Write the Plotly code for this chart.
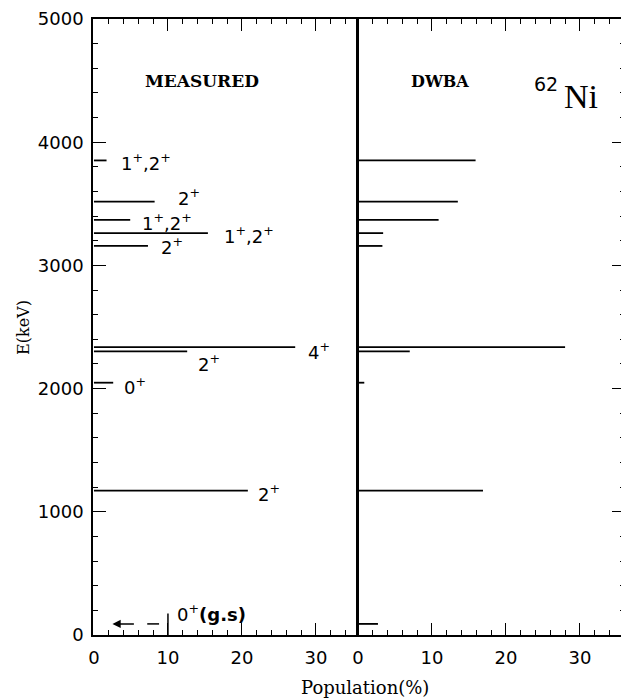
import plotly.graph_objects as go

# ---------------- data ----------------
energies = [1172, 2048, 2302, 2336, 3158, 3262, 3370, 3518, 3852]   # keV
spins = ["2+", "0+", "2+", "4+", "2+", "1+,2+", "1+,2+", "2+", "1+,2+"]
measured = [20.8, 2.6, 12.6, 27.2, 7.3, 15.4, 4.9, 8.2, 1.7]        # population %
dwba = [16.9, 0.85, 7.0, 28.0, 3.3, 3.4, 10.9, 13.5, 15.9]          # population %

gs_energy_display = 90      # ground state drawn slightly above 0 keV
gs_dwba = 2.7               # DWBA ground-state population %
gs_measured_bar = 10        # measured g.s. marker (off scale, arrow to the left)

x_ticks = [0, 10, 20, 30]
y_ticks = [0, 1000, 2000, 3000, 4000, 5000]

# label placement (x in %, y in keV), same order as energies
label_pos = [(23.6, 1150), (5.6, 2022), (15.6, 2210), (30.4, 2302), (10.6, 3157),
             (21.0, 3246), (9.9, 3353), (12.8, 3552), (7.0, 3840)]
gs_label_pos = (15.9, 182)


def fmt(s):
    return s.replace("+", "<sup>+</sup>")


def segs(vals, ens):
    xs, ys = [], []
    for v, e in zip(vals, ens):
        xs += [0, v, None]
        ys += [e, e, None]
    return xs, ys


fig = go.Figure()

mx, my = segs(measured, energies)
fig.add_trace(go.Scatter(x=mx, y=my, mode="lines", line=dict(color="black", width=1.8),
                         xaxis="x", yaxis="y", showlegend=False, hoverinfo="skip"))

dx, dy = segs(dwba + [gs_dwba], energies + [gs_energy_display])
fig.add_trace(go.Scatter(x=dx, y=dy, mode="lines", line=dict(color="black", width=1.8),
                         xaxis="x2", yaxis="y2", showlegend=False, hoverinfo="skip"))

# measured ground state: vertical bar at 10 %, dashed line with arrow pointing left
fig.add_trace(go.Scatter(x=[gs_measured_bar, gs_measured_bar], y=[0, 2 * gs_energy_display - 5],
                         mode="lines", line=dict(color="black", width=1.5),
                         xaxis="x", yaxis="y", showlegend=False, hoverinfo="skip"))
fig.add_trace(go.Scatter(x=[gs_measured_bar * 0.88, gs_measured_bar * 0.72], y=[gs_energy_display] * 2,
                         mode="lines", line=dict(color="black", width=1.5),
                         xaxis="x", yaxis="y", showlegend=False, hoverinfo="skip"))

annotations = []
annotations.append(dict(x=gs_measured_bar * 0.25, y=gs_energy_display, ax=gs_measured_bar * 0.56,
                        ay=gs_energy_display, xref="x", yref="y", axref="x", ayref="y",
                        text="", showarrow=True, arrowhead=2, arrowsize=1.1, arrowwidth=1.5,
                        arrowcolor="black"))

lab_font = dict(family="DejaVu Sans", size=18, color="black")
for (lx, ly), s in zip(label_pos, spins):
    annotations.append(dict(x=lx, y=ly, xref="x", yref="y", text=fmt(s), showarrow=False,
                            font=lab_font, xanchor="center", yanchor="middle"))
annotations.append(dict(x=gs_label_pos[0], y=gs_label_pos[1], xref="x", yref="y",
                        text="0<sup>+</sup><b>(g.s)</b>", showarrow=False,
                        font=dict(family="DejaVu Sans", size=18, color="black"),
                        xanchor="center", yanchor="middle"))

annotations.append(dict(x=14.6, y=4494, xref="x", yref="y", text="<b>MEASURED</b>", showarrow=False,
                        font=dict(family="DejaVu Serif", size=17, color="black")))
annotations.append(dict(x=11.1, y=4494, xref="x2", yref="y2", text="<b>DWBA</b>", showarrow=False,
                        font=dict(family="DejaVu Serif", size=16, color="black")))
annotations.append(dict(x=30.1, y=4369, xref="x2", yref="y2", text="Ni", showarrow=False,
                        font=dict(family="Liberation Serif", size=34, color="black")))
annotations.append(dict(x=25.4, y=4470, xref="x2", yref="y2", text="62", showarrow=False,
                        font=dict(family="DejaVu Sans", size=19, color="black")))

annotations.append(dict(x=-0.1316, y=0.5, xref="paper", yref="paper", text="E(keV)", textangle=-90,
                        xanchor="center", yanchor="middle",
                        showarrow=False, font=dict(family="DejaVu Serif", size=16, color="black")))
annotations.append(dict(x=0.511, y=-0.0853, xref="paper", yref="paper", text="Population(%)",
                        xanchor="center", yanchor="middle",
                        showarrow=False, font=dict(family="DejaVu Serif", size=18, color="black")))

tickfont = dict(family="DejaVu Sans", size=18, color="black")
xcommon = dict(tickvals=x_ticks, ticks="inside", ticklen=12, tickwidth=1.3, tickcolor="black",
               minor=dict(dtick=2, ticks="inside", ticklen=5, tickwidth=1.2, tickcolor="black"),
               showline=True, linewidth=1.6, linecolor="black", mirror="ticks", automargin=False,
               showgrid=False, zeroline=False, tickfont=tickfont, ticklabelstandoff=6)
ycommon = dict(range=[0, 5000], tickvals=y_ticks, ticks="inside", ticklen=13, tickwidth=1.3,
               tickcolor="black", automargin=False,
               minor=dict(dtick=200, ticks="inside", ticklen=5, tickwidth=1.2, tickcolor="black"),
               showline=True, linewidth=1.6, linecolor="black", mirror=True,
               showgrid=False, zeroline=False)

# the page body adds an 8 px offset, so the figure is 8 px smaller and margins compensate
fig.update_layout(
    width=621, height=692,
    margin=dict(l=85, r=4, t=11, b=65),
    paper_bgcolor="white", plot_bgcolor="white",
    xaxis=dict(domain=[0, 0.4962], range=[-0.13, 35.55], anchor="y", **xcommon),
    xaxis2=dict(domain=[0.4981, 1], range=[0, 36.1], anchor="y2", **xcommon),
    yaxis=dict(anchor="x", side="left", tickfont=tickfont, ticklabeloverflow="allow",
               ticklabelstandoff=4, **ycommon),
    yaxis2=dict(anchor="x2", side="right", matches="y", showticklabels=False, **ycommon),
    annotations=annotations,
    showlegend=False,
)

fig.write_html("out.html")
